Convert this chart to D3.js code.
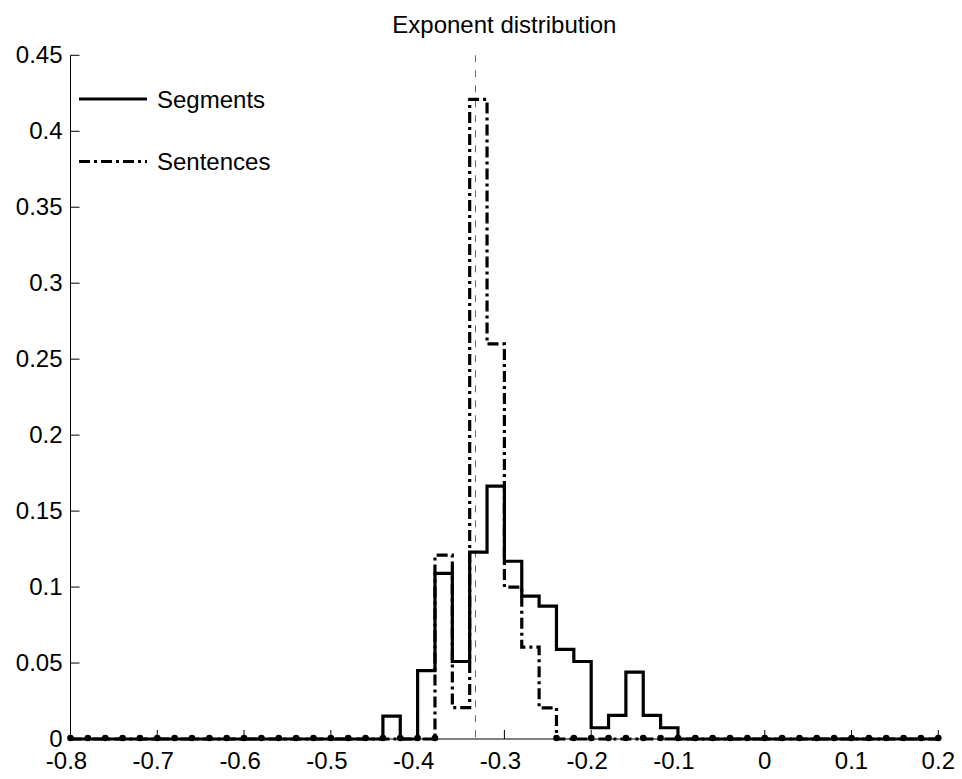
<!DOCTYPE html>
<html>
<head>
<meta charset="utf-8">
<script src="https://cdn.jsdelivr.net/npm/d3@7/dist/d3.min.js"></script>
<style>
  html, body { margin: 0; padding: 0; background: #fff; }
  svg { display: block; }
  text { font-family: "Liberation Sans", Arial, sans-serif; fill: #000; }
</style>
</head>
<body>
<svg id="chart" width="962" height="779"></svg>
<script>
// Histogram bins: left edges from -0.8 in steps of 0.02 (50 bins up to 0.2)
const binStart = -0.8;
const binWidth = 0.02;

// Relative frequency per bin
const segments = [
  0, 0, 0, 0, 0, 0, 0, 0, 0, 0,
  0, 0, 0, 0, 0, 0, 0, 0, 0.015, 0,
  0.045, 0.109, 0.051, 0.123, 0.1665, 0.117, 0.094, 0.0875, 0.059, 0.051,
  0.0074, 0.0155, 0.044, 0.0155, 0.0074, 0, 0, 0, 0, 0,
  0, 0, 0, 0, 0, 0, 0, 0, 0, 0
];
const sentences = [
  0, 0, 0, 0, 0, 0, 0, 0, 0, 0,
  0, 0, 0, 0, 0, 0, 0, 0, 0, 0,
  0, 0.121, 0.0207, 0.421, 0.26, 0.1, 0.0605, 0.0205, 0, 0,
  0, 0, 0, 0, 0, 0, 0, 0, 0, 0,
  0, 0, 0, 0, 0, 0, 0, 0, 0, 0
];

// Reference exponent marked with a dashed vertical line
const refExponent = -1 / 3;

const xTicks = [-0.8, -0.7, -0.6, -0.5, -0.4, -0.3, -0.2, -0.1, 0, 0.1, 0.2];
const yTicks = [0, 0.05, 0.1, 0.15, 0.2, 0.25, 0.3, 0.35, 0.4, 0.45];
const seriesNames = ["Segments", "Sentences"];
const title = "Exponent distribution";

const svg = d3.select("#chart");
const margin = { left: 70.5, right: 962 - 938.3, top: 55.3, bottom: 779 - 739 };
const W = 962, H = 779;
const fontSize = 24;

const x = d3.scaleLinear().domain([-0.8, 0.2]).range([margin.left, W - margin.right]);
const y = d3.scaleLinear().domain([0, 0.45]).range([H - margin.bottom, margin.top]);

const fmt = v => {
  const s = String(+v.toFixed(2));
  return s === "-0" ? "0" : s;
};

// Axes (ticks pointing inward, no box)
const gx = svg.append("g").attr("transform", `translate(0,${y(0)})`);
gx.append("line").attr("x1", x(-0.8)).attr("x2", x(0.2)).attr("stroke", "#000").attr("stroke-width", 1);
gx.selectAll("line.tick").data(xTicks).enter().append("line")
  .attr("class", "tick")
  .attr("x1", d => x(d)).attr("x2", d => x(d))
  .attr("y1", 0).attr("y2", -9)
  .attr("stroke", "#000").attr("stroke-width", 1);
gx.selectAll("text").data(xTicks).enter().append("text")
  .attr("x", d => x(d) + (d < 0 ? -4 : 0))
  .attr("y", 29.5)
  .attr("text-anchor", "middle")
  .attr("font-size", fontSize)
  .text(fmt);

const gy = svg.append("g").attr("transform", `translate(${x(-0.8)},0)`);
gy.append("line").attr("y1", y(0)).attr("y2", y(0.45)).attr("stroke", "#000").attr("stroke-width", 1);
gy.selectAll("line.tick").data(yTicks).enter().append("line")
  .attr("class", "tick")
  .attr("y1", d => y(d)).attr("y2", d => y(d))
  .attr("x1", 0).attr("x2", 9)
  .attr("stroke", "#000").attr("stroke-width", 1);
gy.selectAll("text").data(yTicks).enter().append("text")
  .attr("x", -8)
  .attr("y", d => y(d))
  .attr("dy", "0.33em")
  .attr("text-anchor", "end")
  .attr("font-size", fontSize)
  .text(fmt);

// Title
svg.append("text")
  .attr("x", (x(-0.8) + x(0.2)) / 2)
  .attr("y", 33)
  .attr("text-anchor", "middle")
  .attr("font-size", fontSize)
  .text(title);

// Dashed reference line
svg.append("line")
  .attr("x1", x(refExponent)).attr("x2", x(refExponent))
  .attr("y1", y(0.45)).attr("y2", y(0))
  .attr("stroke", "#666").attr("stroke-width", 1)
  .attr("stroke-dasharray", "7,8");

// Stair-step histogram outlines
const toPoints = vals => {
  const pts = vals.map((v, i) => [binStart + i * binWidth, v]);
  pts.push([binStart + vals.length * binWidth, vals[vals.length - 1]]);
  return pts;
};
const stairs = d3.line()
  .x(d => x(d[0]))
  .y(d => y(d[1]))
  .curve(d3.curveStepAfter);

svg.append("path")
  .attr("d", stairs(toPoints(segments)))
  .attr("fill", "none").attr("stroke", "#000")
  .attr("stroke-width", 3.2).attr("stroke-linejoin", "miter");

svg.append("path")
  .attr("d", stairs(toPoints(sentences)))
  .attr("fill", "none").attr("stroke", "#000")
  .attr("stroke-width", 3.2).attr("stroke-linejoin", "miter")
  .attr("stroke-dasharray", "11,4,3,4");

// Point markers where the sentence curve lies on the baseline
const edgeDots = d3.range(sentences.length + 1).filter(i => {
  const left = i > 0 ? sentences[i - 1] : 0;
  const right = i < sentences.length ? sentences[i] : 0;
  return left === 0 || right === 0;
});
svg.selectAll("circle.pt").data(edgeDots).enter().append("circle")
  .attr("class", "pt")
  .attr("cx", i => x(binStart + i * binWidth))
  .attr("cy", y(0) - 1)
  .attr("r", 3.3)
  .attr("fill", "#000");

// Legend
const legend = svg.append("g");
const legendRows = [
  { name: seriesNames[0], dash: null, ly: 99 },
  { name: seriesNames[1], dash: "11,4,3,4", ly: 161.5 }
];
legendRows.forEach(r => {
  legend.append("line")
    .attr("x1", 79).attr("x2", 147)
    .attr("y1", r.ly).attr("y2", r.ly)
    .attr("stroke", "#000").attr("stroke-width", 3.2)
    .attr("stroke-dasharray", r.dash);
  legend.append("text")
    .attr("x", 157).attr("y", r.ly + 8.5)
    .attr("font-size", fontSize)
    .text(r.name);
});
</script>
</body>
</html>
